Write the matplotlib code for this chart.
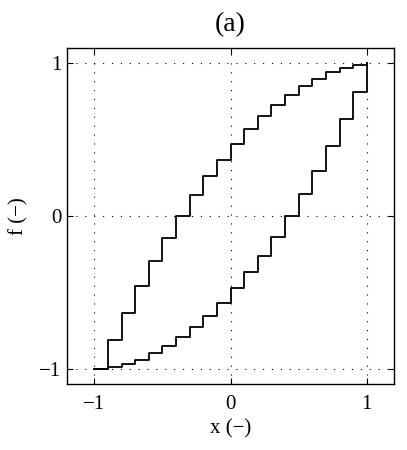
import numpy as np
import matplotlib
matplotlib.use("Agg")
import matplotlib.pyplot as plt

# Data
x_grid = [-1.0, -0.9, -0.8, -0.7, -0.6, -0.5, -0.4, -0.3, -0.2, -0.1, 0.0,
          0.1, 0.2, 0.3, 0.4, 0.5, 0.6, 0.7, 0.8, 0.9, 1.0]
f_lower = [-1.0, -0.989, -0.967, -0.941, -0.897, -0.849, -0.793, -0.728, -0.654, -0.567, -0.472,
           -0.368, -0.259, -0.137, 0.0, 0.142, 0.294, 0.457, 0.632, 0.813, 1.0]
f_upper = [-1.0, -0.813, -0.632, -0.457, -0.294, -0.142, 0.0, 0.137, 0.259, 0.368, 0.472,
           0.567, 0.654, 0.728, 0.793, 0.849, 0.897, 0.941, 0.967, 0.989, 1.0]
ticks = [-1, 0, 1]
tick_labels = ["\u22121", "0", "1"]

plt.rcParams['font.family'] = ['Liberation Serif', 'DejaVu Serif']
plt.rcParams['mathtext.fontset'] = 'stix'

fig = plt.figure(figsize=(4.07, 4.5), dpi=100)
ax = fig.add_axes([67/407, 1-384/450, 327/407, 336/450])

ax.step(x_grid, f_lower, where='post', color='black', lw=1.3)
ax.step(x_grid, f_upper, where='post', color='black', lw=1.3)

ax.set_xlim(-1.2, 1.2)
ax.set_ylim(-1.1, 1.1)
ax.set_xticks(ticks)
ax.set_xticklabels(tick_labels)
ax.set_yticks(ticks)
ax.set_yticklabels(tick_labels)
ax.tick_params(direction='in', length=4, width=0.8, top=True, right=True,
               labelsize=15, colors='black')
ax.tick_params(axis='x', pad=8)
ax.tick_params(axis='y', pad=4)
ax.grid(True, linestyle=(0, (1, 7)), color='black', lw=0.8)
for s in ax.spines.values():
    s.set_linewidth(1.0)

ax.set_xlabel("x (\u2212)", fontsize=15, labelpad=4)
ax.set_ylabel("f (\u2212)", fontsize=15, labelpad=8)
ax.set_title("(a)", fontsize=20, pad=12)

fig.savefig("out.png", dpi=100)
